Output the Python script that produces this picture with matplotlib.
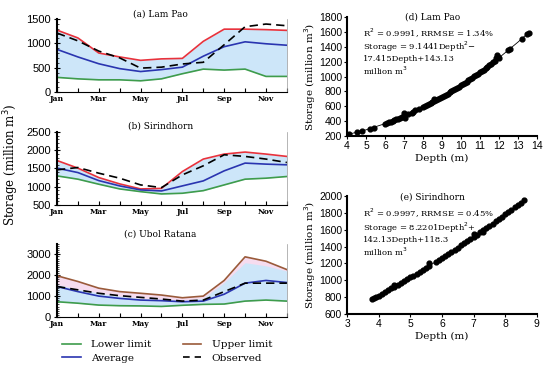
import numpy as np
import matplotlib.pyplot as plt
from matplotlib.lines import Line2D

months = ['Jan', 'Feb', 'Mar', 'Apr', 'May', 'Jun', 'Jul', 'Aug', 'Sep', 'Oct', 'Nov', 'Dec']

# (a) Lam Pao, million m3
lp_lower = [300, 270, 250, 250, 230, 270, 375, 470, 450, 470, 320, 320]
lp_upper = [1270, 1110, 800, 720, 650, 680, 690, 1040, 1290, 1290, 1280, 1265]
lp_avg = [875, 720, 580, 480, 420, 460, 510, 735, 930, 1030, 990, 960]
lp_obs = [1210, 1050, 840, 700, 490, 510, 575, 610, 970, 1340, 1395, 1360]

# (b) Sirindhorn
sd_lower = [1297, 1207, 1069, 940, 866, 803, 822, 893, 1050, 1207, 1234, 1280]
sd_upper = [1718, 1509, 1251, 1078, 940, 955, 1416, 1757, 1894, 1949, 1894, 1830]
sd_avg = [1509, 1388, 1168, 1023, 913, 885, 1023, 1160, 1435, 1647, 1619, 1600]
sd_obs = [1462, 1526, 1371, 1234, 1050, 977, 1325, 1573, 1875, 1830, 1757, 1663]

# (c) Ubol Ratana
ub_lower = [730, 660, 570, 540, 530, 505, 560, 604, 620, 760, 810, 760]
ub_upper = [1975, 1700, 1380, 1215, 1135, 1050, 920, 1000, 1750, 2880, 2670, 2270]
ub_band = [1550, 1330, 1150, 1000, 900, 850, 780, 900, 1650, 2600, 2450, 2200]
ub_avg = [1460, 1215, 1000, 890, 810, 780, 730, 760, 1090, 1620, 1750, 1650]
ub_obs = [1460, 1300, 1135, 1020, 940, 860, 760, 810, 1215, 1620, 1620, 1620]

# (d) Lam Pao depth-storage points
lp_depth = [4.0, 4.1, 4.5, 4.8, 5.2, 5.4, 6.0, 6.1, 6.2, 6.3, 6.4, 6.5, 6.6, 6.7, 6.8, 6.9,
            7.0, 7.0, 7.05, 7.2, 7.4, 7.5, 7.6, 7.8, 8.0, 8.1, 8.2, 8.3, 8.4, 8.5, 8.6,
            8.6, 8.7, 8.8, 8.9, 9.0, 9.1, 9.2, 9.3, 9.4, 9.5, 9.6, 9.7, 9.8, 9.9, 10.0,
            10.1, 10.2, 10.3, 10.4, 10.5, 10.6, 10.7, 10.8, 10.9, 11.0, 11.1, 11.2, 11.3,
            11.4, 11.5, 11.6, 11.7, 11.8, 11.85, 11.9, 11.95, 12.0, 12.5, 12.6, 13.2,
            13.5, 13.6]
lp_stor = [222, 226, 250, 270, 298, 316, 368, 377, 387, 396, 406, 416, 427, 437, 448, 458,
           469, 505, 440, 492, 515, 527, 545, 564, 589, 602, 615, 628, 642, 656, 670,
           705, 684, 698, 713, 727, 742, 757, 772, 787, 803, 819, 835, 851, 867, 883,
           900, 917, 934, 951, 968, 986, 1004, 1022, 1040, 1058, 1077, 1095, 1114,
           1133, 1152, 1172, 1191, 1211, 1250, 1285, 1260, 1251, 1354, 1375, 1506,
           1575, 1590]
lp_fit_depth = [4.0, 5.0, 6.0, 7.0, 8.0, 9.0, 10.0, 11.0, 12.0, 13.0, 13.6]
lp_fit_stor = [220, 285, 368, 469, 589, 727, 883, 1058, 1251, 1462, 1598]

# (e) Sirindhorn depth-storage points
sd_depth = [3.8, 3.85, 3.9, 4.0, 4.1, 4.2, 4.3, 4.4, 4.5, 4.5, 4.6, 4.7, 4.8, 4.9, 5.0,
            5.1, 5.2, 5.3, 5.4, 5.5, 5.6, 5.6, 5.8, 5.9, 6.0, 6.1, 6.2, 6.3, 6.4, 6.5,
            6.6, 6.7, 6.8, 6.9, 7.0, 7.0, 7.1, 7.2, 7.3, 7.3, 7.4, 7.5, 7.6, 7.7, 7.8,
            7.9, 8.0, 8.1, 8.2, 8.3, 8.4, 8.5, 8.6]
sd_stor = [777, 787, 798, 818, 839, 860, 881, 903, 924, 950, 946, 968, 990, 1012, 1034,
           1057, 1080, 1102, 1125, 1149, 1172, 1205, 1215, 1243, 1267, 1291, 1315, 1340,
           1365, 1389, 1414, 1440, 1465, 1490, 1516, 1552, 1542, 1568, 1594, 1570, 1620,
           1647, 1673, 1700, 1727, 1754, 1781, 1809, 1836, 1864, 1892, 1920, 1949]
sd_fit_depth = [3.8, 4.5, 5.0, 5.5, 6.0, 6.5, 7.0, 7.5, 8.0, 8.6]
sd_fit_stor = [777, 924, 1034, 1149, 1267, 1389, 1516, 1647, 1781, 1949]

c_fill = '#cde6f9'
c_pink = '#f6dcef'
c_red = '#e8323c'
c_brown = '#9a5a3a'
c_blue = '#2a35b0'
c_green = '#3e9c4c'

serif = 'DejaVu Serif'
sans = 'Liberation Sans'

fig = plt.figure(figsize=(5.5, 3.71), dpi=100)

left_specs = [
    ([0.1036, 0.752, 0.418, 0.197], '(a) Lam Pao', 1.07, (0, 1500), [0, 500, 1000, 1500],
     lp_lower, lp_upper, None, lp_avg, lp_obs, c_red),
    ([0.1036, 0.4474, 0.418, 0.197], '(b) Sirindhorn', 1.08, (500, 2500),
     [500, 1000, 1500, 2000, 2500], sd_lower, sd_upper, None, sd_avg, sd_obs, c_red),
    ([0.1036, 0.1456, 0.418, 0.197], '(c) Ubol Ratana', 1.14, (0, 3500), [0, 1000, 2000, 3000],
     ub_lower, ub_upper, ub_band, ub_avg, ub_obs, c_brown),
]

x = np.arange(12)
for pos, title, ty, ylim, yt, lo, up, band, avg, obs, upc in left_specs:
    ax = fig.add_axes(pos)
    if band is None:
        ax.fill_between(x, lo, up, color=c_fill, lw=0)
    else:
        ax.fill_between(x, lo, up, color=c_pink, lw=0)
        ax.fill_between(x, lo, band, color=c_fill, lw=0)
    ax.plot(x, lo, color=c_green, lw=1.2)
    ax.plot(x, up, color=upc, lw=1.2)
    ax.plot(x, avg, color=c_blue, lw=1.2)
    ax.plot(x, obs, color='black', lw=1.2, ls=(0, (5, 3)))
    ax.set_xlim(0, 11)
    ax.set_ylim(*ylim)
    ax.set_yticks(yt)
    ax.set_yticks(np.arange(ylim[0], ylim[1] + 1, 100), minor=True)
    ax.set_xticks(x)
    ax.set_xticklabels([m if i % 2 == 0 else '' for i, m in enumerate(months)],
                       fontfamily=serif, fontsize=5.5, fontweight='bold')
    for lab in ax.get_yticklabels():
        lab.set_fontfamily(sans)
        lab.set_fontsize(8)
    ax.tick_params(axis='x', direction='in', length=3, width=0.8, pad=2)
    ax.tick_params(axis='y', which='major', direction='inout', length=4, width=0.8, pad=2.5)
    ax.tick_params(axis='y', which='minor', direction='in', length=1.5, width=0.5)
    ax.spines['top'].set_visible(False)
    ax.spines['right'].set_linewidth(0.5)
    ax.spines['right'].set_color('#999999')
    ax.spines['left'].set_linewidth(1.5)
    ax.spines['bottom'].set_linewidth(0.8)
    ax.text(0.45, ty, title, transform=ax.transAxes, ha='center', va='center',
            fontfamily=serif, fontsize=6.5)

fig.text(0.02, 1 - 165 / 371, 'Storage (million m$^3$)', rotation=90, ha='center', va='center',
         fontfamily=serif, fontsize=8.5)

handles = [
    Line2D([], [], color=c_green, lw=1.2),
    Line2D([], [], color=c_blue, lw=1.2),
    Line2D([], [], color=c_brown, lw=1.2),
    Line2D([], [], color='black', lw=1.2, ls=(0, (4, 3))),
]
labels = ['Lower limit', 'Average', 'Upper limit', 'Observed']
fig.legend(handles, labels, ncol=2, loc='upper left', bbox_to_anchor=(62 / 550, 1 - 340 / 371),
           frameon=False, prop={'family': serif, 'size': 7.5}, handlelength=1.8,
           handletextpad=1.0, columnspacing=3.0, labelspacing=0.4, borderpad=0,
           borderaxespad=0)

right_specs = [
    ([0.631, 0.633, 0.345, 0.321], '(d) Lam Pao', 1.0, 0.866, 0.655,
     lp_depth, lp_stor, lp_fit_depth, lp_fit_stor,
     (4, 14), (200, 1800), range(4, 15), range(200, 1801, 200),
     ['R$^2$ = 0.9991, RRMSE = 1.34%', 'Storage = 9.1441Depth$^2$\u2212',
      '17.415Depth+143.13', 'million m$^3$']),
    ([0.631, 0.1536, 0.345, 0.318], '(e) Sirindhorn', 0.99, 0.856, 0.636,
     sd_depth, sd_stor, sd_fit_depth, sd_fit_stor,
     (3, 9), (600, 2000), range(3, 10), range(600, 2001, 200),
     ['R$^2$ = 0.9997, RRMSE = 0.45%', 'Storage = 8.2201Depth$^2$+',
      '142.13Depth+118.3', 'million m$^3$']),
]

for pos, title, ty, ry, sy, dx, dy, fx, fy, xlim, ylim, xt, yt, notes in right_specs:
    ax = fig.add_axes(pos)
    ax.plot(fx, fy, color='black', lw=0.6)
    ax.scatter(dx, dy, s=12, color='black', zorder=3)
    ax.set_xlim(*xlim)
    ax.set_ylim(*ylim)
    ax.set_xticks(list(xt))
    ax.set_yticks(list(yt))
    for lab in ax.get_xticklabels() + ax.get_yticklabels():
        lab.set_fontfamily(sans)
        lab.set_fontsize(7.5)
    ax.tick_params(direction='out', length=2, width=0.8, pad=1.5)
    ax.spines['top'].set_visible(False)
    ax.spines['right'].set_visible(False)
    ax.spines['left'].set_linewidth(1.5)
    ax.spines['bottom'].set_linewidth(1.5)
    ax.set_xlabel('Depth (m)', fontfamily=serif, fontsize=7.5, labelpad=2)
    ax.set_ylabel('Storage (million m$^3$)', fontfamily=serif, fontsize=7.5, labelpad=1)
    ax.text(0.45, ty, title, transform=ax.transAxes, ha='center', va='center',
            fontfamily=serif, fontsize=6.5)
    ax.text(0.084, ry, notes[0], transform=ax.transAxes, ha='left', va='center',
            fontfamily=serif, fontsize=6)
    ax.text(0.084, sy, '\n'.join(notes[1:]), transform=ax.transAxes, ha='left', va='center',
            fontfamily=serif, fontsize=6, linespacing=1.15)

fig.savefig('out.png', dpi=100)
